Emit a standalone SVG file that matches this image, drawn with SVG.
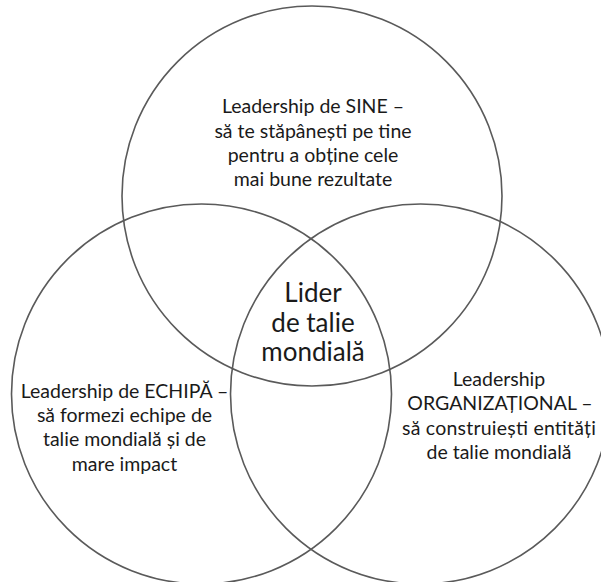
<svg xmlns="http://www.w3.org/2000/svg" width="601" height="582" viewBox="0 0 601 582">
<style>
.c{fill:none;stroke:#5a5a5a;stroke-width:1.6}
.t{font-family:Lato,"Open Sans","Liberation Sans",sans-serif;font-size:19.5px;fill:#1a1a1a;text-anchor:middle}
.m{font-family:Lato,"Open Sans","Liberation Sans",sans-serif;font-size:26px;fill:#1a1a1a;text-anchor:middle}
</style>
<rect width="601" height="582" fill="#ffffff"/>
<g id="self">
<circle class="c" cx="312" cy="196" r="190"/>
<text class="t" x="313" y="113">Leadership de SINE –</text>
<text class="t" x="313" y="137.5">să te stăpânești pe tine</text>
<text class="t" x="313" y="162">pentru a obține cele</text>
<text class="t" x="313" y="186">mai bune rezultate</text>
</g>
<g id="team">
<circle class="c" cx="201.5" cy="394" r="190"/>
<text class="t" x="124.5" y="397.5">Leadership de ECHIPĂ –</text>
<text class="t" x="124.5" y="422">să formezi echipe de</text>
<text class="t" x="124.5" y="446">talie mondială și de</text>
<text class="t" x="124.5" y="470.5">mare impact</text>
</g>
<g id="org">
<circle class="c" cx="420.5" cy="394" r="190"/>
<text class="t" x="499" y="385.5">Leadership</text>
<text class="t" x="500" y="410">ORGANIZAȚIONAL –</text>
<text class="t" x="499" y="434.5" textLength="194" lengthAdjust="spacing">să construiești entități</text>
<text class="t" x="499" y="458.5">de talie mondială</text>
</g>
<g id="center">
<text class="m" x="313" y="302">Lider</text>
<text class="m" x="313" y="332">de talie</text>
<text class="m" x="313" y="361">mondială</text>
</g>
<g id="connectors"/>
</svg>
